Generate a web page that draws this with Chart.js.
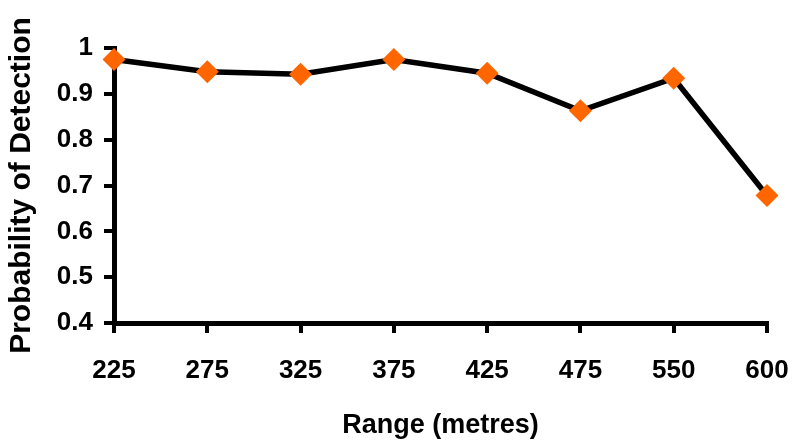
<!DOCTYPE html>
<html>
<head>
<meta charset="utf-8">
<script src="https://cdn.jsdelivr.net/npm/chart.js@4"></script>
<style>
  html, body { margin: 0; padding: 0; background: #fff; }
  #wrap { width: 792px; height: 440px; }
</style>
</head>
<body>
<div id="wrap"><canvas id="c" width="792" height="440"></canvas></div>
<script>
const categories = ['225', '275', '325', '375', '425', '475', '550', '600'];
const detection = [0.975, 0.948, 0.943, 0.975, 0.945, 0.863, 0.934, 0.678];
const yTicks = [0.4, 0.5, 0.6, 0.7, 0.8, 0.9, 1];

const FONT = '"Liberation Sans", Arial, sans-serif';

new Chart(document.getElementById('c'), {
  type: 'line',
  data: {
    labels: categories,
    datasets: [{
      data: detection,
      borderColor: '#000000',
      borderWidth: 5.5,
      pointStyle: 'rectRot',
      pointRadius: 11.5,
      pointBackgroundColor: '#FF6600',
      pointBorderColor: '#FF6600',
      pointBorderWidth: 0,
      tension: 0,
      fill: false
    }]
  },
  options: {
    responsive: false,
    animation: false,
    devicePixelRatio: 1,
    layout: { padding: { left: 0, top: 48, right: 25, bottom: 0 } },
    plugins: { legend: { display: false }, tooltip: { enabled: false } },
    scales: {
      x: {
        type: 'category',
        offset: false,
        grid: { display: true, drawOnChartArea: false, drawTicks: true, tickLength: 10, lineWidth: 4, color: '#000' },
        border: { display: true, color: '#000', width: 5 },
        ticks: { color: '#000', padding: 22, font: { family: FONT, size: 26, weight: 'bold' }, maxRotation: 0 },
        title: { display: true, text: 'Range (metres)', color: '#000', padding: { top: 0, bottom: 0 },
                 font: { family: FONT, size: 27, weight: 'bold', lineHeight: 1.1 } },
        afterFit: s => { s.height = 117; s.paddingLeft = 0; s.paddingRight = 0; }
      },
      y: {
        min: 0.4,
        max: 1,
        afterBuildTicks: s => { s.ticks = yTicks.map(v => ({ value: v })); },
        grid: { display: true, drawOnChartArea: false, drawTicks: true, tickLength: 10, lineWidth: 4, color: '#000' },
        border: { display: true, color: '#000', width: 5 },
        ticks: { color: '#000', padding: 11, font: { family: FONT, size: 26, weight: 'bold' },
                 callback: v => String(Math.round(v * 10) / 10) },
        title: { display: true, text: 'Probability of Detection', color: '#000', padding: { top: 4, bottom: 0 },
                 font: { family: FONT, size: 30, weight: 'bold', lineHeight: 1.2 } },
        afterFit: s => { s.width = 114; s.paddingTop = 0; s.paddingBottom = 0; }
      }
    }
  }
});
</script>
</body>
</html>
